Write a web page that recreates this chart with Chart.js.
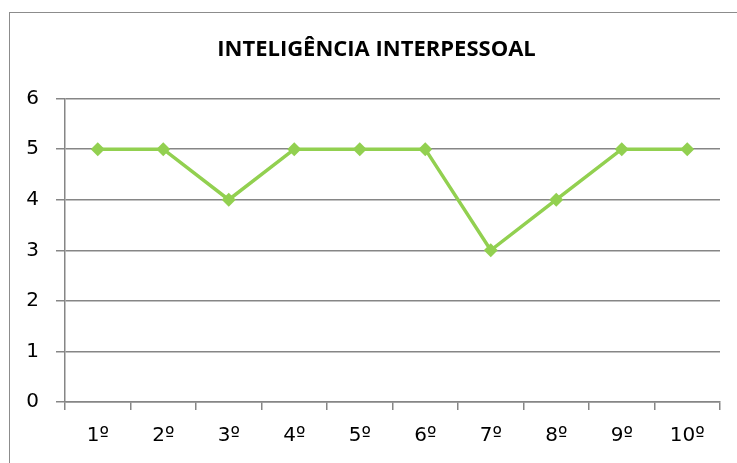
<!DOCTYPE html>
<html>
<head>
<meta charset="utf-8">
<script src="https://cdn.jsdelivr.net/npm/chart.js@4/dist/chart.umd.min.js"></script>
<style>
  html, body { margin: 0; padding: 0; background: #fff; overflow: hidden; }
  #moldura { position: absolute; left: 9px; top: 12px; width: 800px; height: 500px; border: 1px solid #8c8c8c; }
  #wrap { position: absolute; left: 0; top: 0; width: 737px; height: 463px; }
</style>
</head>
<body>
<div id="moldura"></div>
<div id="wrap"><canvas id="grafico" width="737" height="463"></canvas></div>
<script>
const titulo = 'INTELIGÊNCIA INTERPESSOAL'
const categorias = ['1º', '2º', '3º', '4º', '5º', '6º', '7º', '8º', '9º', '10º']
const valores = [5, 5, 4, 5, 5, 5, 3, 4, 5, 5]
const ticksY = [0, 1, 2, 3, 4, 5, 6]

const verde = '#92D050'
const cinza = '#868686'
const fonteTitulo = '"Open Sans", "Noto Sans", sans-serif'
const fonteEixos = '"DejaVu Sans", sans-serif'

const ctx = document.getElementById('grafico').getContext('2d')

// Título desenhado à parte para ficar centrado como no original
const pluginTitulo = {
    id: 'tituloFixo',
    afterDraw(chart) {
        const c = chart.ctx
        c.save()
        c.fillStyle = '#000'
        c.font = 'bold 22px ' + fonteTitulo
        c.textAlign = 'center'
        c.textBaseline = 'middle'
        c.fillText(titulo, 376.5, 50)
        c.restore()
    }
}

new Chart(ctx, {
    type: 'line',
    data: {
        labels: categorias,
        datasets: [{
            data: valores,
            borderColor: verde,
            backgroundColor: verde,
            borderWidth: 3.5,
            tension: 0,
            pointStyle: 'rectRot',
            pointRadius: 7,
            pointHoverRadius: 7,
            pointBackgroundColor: verde,
            pointBorderColor: verde,
            pointBorderWidth: 0
        }]
    },
    options: {
        responsive: false,
        animation: false,
        events: [],
        layout: { padding: { left: 0, right: 17, top: 98.6, bottom: 0 } },
        plugins: {
            legend: { display: false },
            tooltip: { enabled: false },
            title: { display: false }
        },
        scales: {
            y: {
                min: ticksY[0],
                max: ticksY[ticksY.length - 1],
                afterBuildTicks: s => { s.ticks = ticksY.map(v => ({ value: v })) },
                afterFit: s => { s.width = 65 },
                border: { color: cinza, width: 1.5 },
                grid: { color: cinza, lineWidth: 1.5, tickLength: 9 },
                ticks: { color: '#000', padding: 17, font: { family: fonteEixos, size: 20 } }
            },
            x: {
                offset: true,
                afterFit: s => { s.height = 61 },
                border: { color: cinza, width: 1.5 },
                grid: { offset: true, drawOnChartArea: false, color: cinza, lineWidth: 1.5, tickLength: 8 },
                ticks: { color: '#000', padding: 14, maxRotation: 0, font: { family: fonteEixos, size: 20 } }
            }
        }
    },
    plugins: [pluginTitulo]
})
</script>
</body>
</html>
